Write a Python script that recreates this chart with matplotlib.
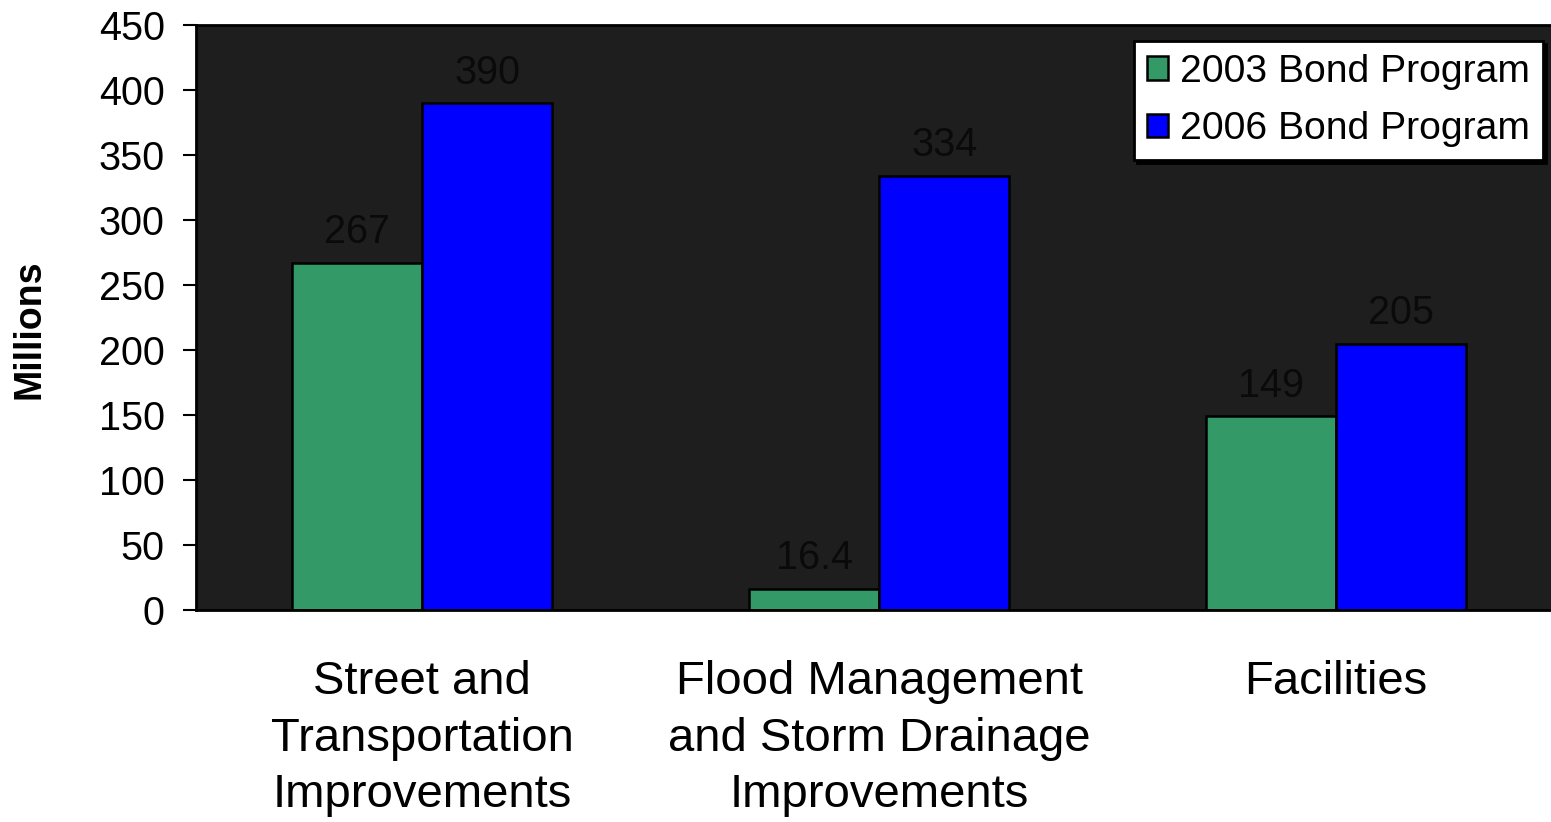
import numpy as np
import matplotlib
matplotlib.use("Agg")
import matplotlib.pyplot as plt

categories = ["Street and\nTransportation\nImprovements",
              "Flood Management\nand Storm Drainage\nImprovements",
              "Facilities"]
bond_2003 = [267, 16.4, 149]
bond_2006 = [390, 334, 205]
series_labels = ["2003 Bond Program", "2006 Bond Program"]
yticks = [0, 50, 100, 150, 200, 250, 300, 350, 400, 450]

GREEN = "#339966"
BLUE = "#0000FF"
FACE = "#1e1e1e"

plt.rcParams["font.family"] = ["Liberation Sans", "DejaVu Sans"]

W, H = 1551, 822
fig = plt.figure(figsize=(W / 100, H / 100), dpi=100)
ax = fig.add_axes([196 / W, (H - 610) / H, (W - 196) / W, 585 / H])
ax.set_facecolor(FACE)

x = np.arange(len(categories))
w = 0.285
b1 = ax.bar(x - w / 2, bond_2003, w, color=GREEN, edgecolor="black",
            linewidth=1.8, label=series_labels[0])
b2 = ax.bar(x + w / 2, bond_2006, w, color=BLUE, edgecolor="black",
            linewidth=1.8, label=series_labels[1])

for bars, vals in ((b1, bond_2003), (b2, bond_2006)):
    for rect, v in zip(bars, vals):
        ax.annotate(f"{v:g}", (rect.get_x() + rect.get_width() / 2, v),
                    xytext=(0, 14), textcoords="offset points",
                    ha="center", va="baseline", fontsize=28.5, color="#0a0a0a")

ax.set_xlim(-0.495, 2.47)
ax.set_ylim(0, 450)
ax.set_yticks(yticks)
ax.tick_params(axis="y", labelsize=28.5, length=9.5, width=1.5, pad=13)
ax.set_xticks(x)
ax.set_xticklabels(categories, fontsize=34, linespacing=1.37)
ax.tick_params(axis="x", length=0, pad=36)
for s in ("left", "bottom", "top"):
    ax.spines[s].set_linewidth(2)
ax.spines["right"].set_visible(False)

fig.text(30 / W, 1 - 329 / H, "Millions", rotation=90, fontsize=27,
         fontweight="bold", ha="center", va="center")

leg = ax.legend(loc="upper right", bbox_to_anchor=(1543 / W, 1 - 41 / H),
                bbox_transform=fig.transFigure, borderaxespad=0,
                fontsize=28.2, fancybox=False, frameon=True, edgecolor="black",
                framealpha=1, handlelength=0.55, handleheight=0.55,
                handletextpad=0.3, labelspacing=0.55, borderpad=0.33,
                shadow={"color": "black", "alpha": 1})
leg.get_frame().set_linewidth(2)

fig.savefig("out.png", dpi=100)
